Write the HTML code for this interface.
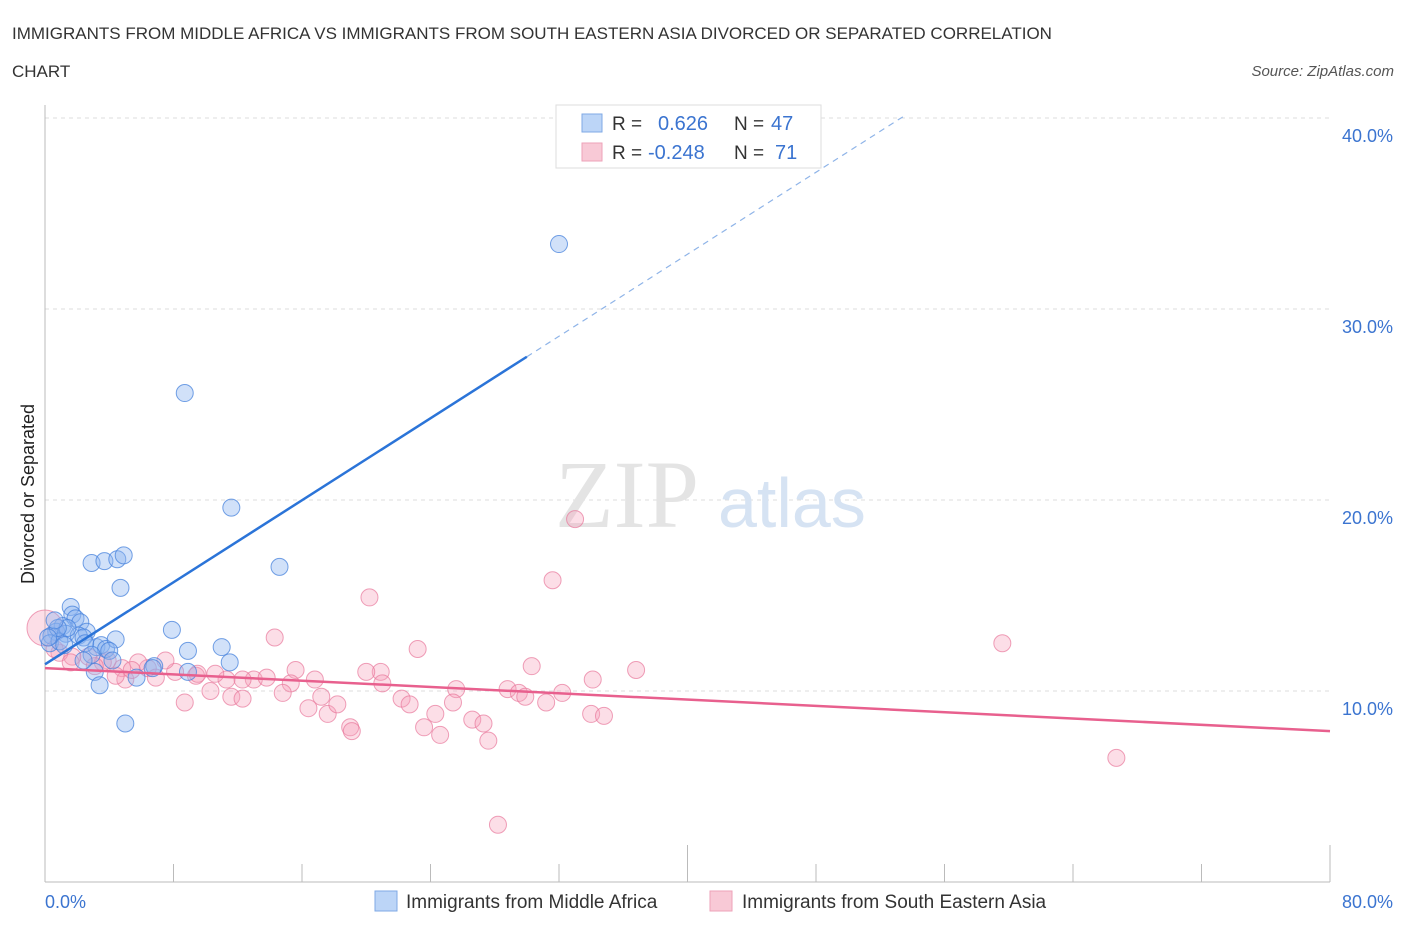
<!DOCTYPE html>
<html><head><meta charset="utf-8"><style>
body{margin:0;background:#fff;font-family:"Liberation Sans",sans-serif}
svg{display:block}
</style></head><body>
<svg width="1406" height="930" xmlns="http://www.w3.org/2000/svg">
<text x="12" y="39" font-size="17" fill="#333">IMMIGRANTS FROM MIDDLE AFRICA VS IMMIGRANTS FROM SOUTH EASTERN ASIA DIVORCED OR SEPARATED CORRELATION</text>
<text x="12" y="77" font-size="17" fill="#333">CHART</text>
<text x="1394" y="76" font-size="15" font-style="italic" fill="#555" text-anchor="end">Source: ZipAtlas.com</text>
<g id="grid"></g>
<text x="555" y="527" font-size="96" font-family="Liberation Serif" fill="#e4e4e4">ZIP</text>
<text x="718" y="527" font-size="70" fill="#d6e3f3">atlas</text>
<text transform="translate(34,494) rotate(-90)" font-size="18" fill="#222" text-anchor="middle">Divorced or Separated</text>
<g id="points"></g>
<g id="lines"></g>
<g>
<rect x="556" y="105" width="265" height="63" fill="#fff" stroke="#ddd"/>
<rect x="582" y="114" width="20" height="18" fill="#bcd5f7" stroke="#7fa9e6"/>
<text x="612" y="130" font-size="19" fill="#333">R =</text><text x="658" y="130" font-size="20" fill="#3b74d0">0.626</text>
<text x="734" y="130" font-size="19" fill="#333">N =</text><text x="771" y="130" font-size="20" fill="#3b74d0">47</text>
<rect x="582" y="143" width="20" height="18" fill="#f8c9d6" stroke="#eea2b8"/>
<text x="612" y="159" font-size="19" fill="#333">R =</text><text x="648" y="159" font-size="20" fill="#3b74d0">-0.248</text>
<text x="734" y="159" font-size="19" fill="#333">N =</text><text x="775" y="159" font-size="20" fill="#3b74d0">71</text>
</g>
<text x="45" y="908" font-size="18" fill="#3b74d0">0.0%</text>
<text x="1393" y="908" font-size="18" fill="#3b74d0" text-anchor="end">80.0%</text>
<rect x="375" y="891" width="22" height="20" fill="#bcd5f7" stroke="#7fa9e6"/>
<text x="406" y="908" font-size="19" fill="#333">Immigrants from Middle Africa</text>
<rect x="710" y="891" width="22" height="20" fill="#f8c9d6" stroke="#eea2b8"/>
<text x="742" y="908" font-size="19" fill="#333">Immigrants from South Eastern Asia</text>
</svg>
<script>
const yTicks=[10,20,30,40];
const yTickLabels=["10.0%","20.0%","30.0%","40.0%"];
const xTicks=[0,8,16,24,32,40,48,56,64,72,80];
const blueX=[32.0,8.7,11.6,14.6,2.9,3.7,4.5,4.9,4.7,1.6,1.7,1.9,1.1,2.2,0.7,0.4,1.3,2.6,0.3,0.9,2.1,2.4,3.2,3.5,3.8,4.4,4.0,7.9,11.0,8.9,11.5,6.8,5.7,8.9,3.1,3.4,5.0,1.4,0.8,2.5,2.9,1.2,0.6,0.2,4.2,6.7,2.4];
const blueY=[33.4,25.6,19.6,16.5,16.7,16.8,16.9,17.1,15.4,14.4,14.0,13.8,13.4,13.6,13.1,12.9,13.0,13.1,12.5,12.6,12.9,12.8,12.3,12.4,12.2,12.7,12.1,13.2,12.3,12.1,11.5,11.3,10.7,11.0,11.0,10.3,8.3,13.3,13.3,12.5,11.9,12.4,13.7,12.8,11.6,11.2,11.6];
const pinkX=[33.0,31.6,20.2,59.6,14.3,23.2,30.3,36.8,34.1,15.6,20.9,20.0,25.6,28.8,21.0,16.8,15.3,13.0,13.8,11.3,10.6,8.1,9.4,6.4,6.9,5.8,4.8,3.9,2.7,1.7,0.9,0.0,8.7,10.3,11.6,12.3,14.8,17.2,16.4,17.6,18.2,19.0,19.1,22.2,22.7,24.3,23.6,24.6,25.4,26.6,27.3,27.6,29.5,29.9,31.2,32.2,34.0,34.8,28.2,66.7,5.0,9.5,12.3,3.6,7.5,5.4,3.1,1.6,0.6,4.4];
const pinkY=[19.0,15.8,14.9,12.5,12.8,12.2,11.3,11.1,10.6,11.1,11.0,11.0,10.1,10.1,10.4,10.6,10.4,10.6,10.7,10.6,10.9,11.0,10.8,11.2,10.7,11.5,11.2,11.6,11.8,11.8,12.0,13.3,9.4,10.0,9.7,9.6,9.9,9.7,9.1,8.8,9.3,8.1,7.9,9.6,9.3,8.8,8.1,7.7,9.4,8.5,8.3,7.4,9.9,9.7,9.4,9.9,8.8,8.7,3.0,6.5,10.6,10.9,10.6,11.5,11.6,11.1,11.3,11.5,12.2,10.8];
const blueLine={x1:0,y1:11.4,x2:30,y2:27.5,xEnd:53.6};
const pinkLine={x1:0,y1:11.2,x2:80,y2:7.9};
const NS="http://www.w3.org/2000/svg";
const xs=v=>45+v/80*1285, ys=v=>882-v*19.1;
function mk(t,a,p){const e=document.createElementNS(NS,t);for(const k in a)e.setAttribute(k,a[k]);p.appendChild(e);return e;}
const grid=document.getElementById('grid');
yTicks.forEach((t,i)=>{
 const l=mk('line',{x1:45,x2:1330,y1:ys(t),y2:ys(t),stroke:'#ddd','stroke-dasharray':'4,4'},grid);
 
 
 const tx=mk('text',{x:1393,y:ys(t)+24,'font-size':18,fill:'#3b74d0','text-anchor':'end'},grid);
 tx.textContent=yTickLabels[i];
 
 
});
const ax=mk('line',{x1:45,x2:45,y1:105,y2:882,stroke:'#bbb'},grid);


const bx=mk('line',{x1:45,x2:1330,y1:882,y2:882,stroke:'#bbb'},grid);


xTicks.forEach(t=>{
 const long=(t===40||t===80||t===0);
 const l=mk('line',{x1:xs(t),x2:xs(t),y1:long?845:864,y2:882,stroke:'#bbb'},grid);
 
 
});
const pts=document.getElementById('points');
pinkX.forEach((x,i)=>{
 const c=mk('circle',{cx:xs(x),cy:ys(pinkY[i]),r:i===31?18:8.5,fill:'rgba(245,160,185,0.35)',stroke:'rgba(232,120,155,0.7)','stroke-width':1},pts);
 
 
});
blueX.forEach((x,i)=>{
 const c=mk('circle',{cx:xs(x),cy:ys(blueY[i]),r:8.5,fill:'rgba(140,180,240,0.4)',stroke:'rgba(70,130,220,0.75)','stroke-width':1},pts);
 
 
});
const ln=document.getElementById('lines');
const slope=(blueLine.y2-blueLine.y1)/(blueLine.x2-blueLine.x1);
const b1=mk('line',{x1:xs(blueLine.x1),y1:ys(blueLine.y1),x2:xs(blueLine.x2),y2:ys(blueLine.y2),stroke:'#2b74d8','stroke-width':2.5},ln);


const b2=mk('line',{x1:xs(blueLine.x2),y1:ys(blueLine.y2),x2:xs(blueLine.xEnd),y2:ys(blueLine.y1+slope*blueLine.xEnd),stroke:'#8fb4e8','stroke-width':1.2,'stroke-dasharray':'6,5'},ln);


const p1=mk('line',{x1:xs(pinkLine.x1),y1:ys(pinkLine.y1),x2:xs(pinkLine.x2),y2:ys(pinkLine.y2),stroke:'#e8608e','stroke-width':2.5},ln);


</script>
</body></html>
